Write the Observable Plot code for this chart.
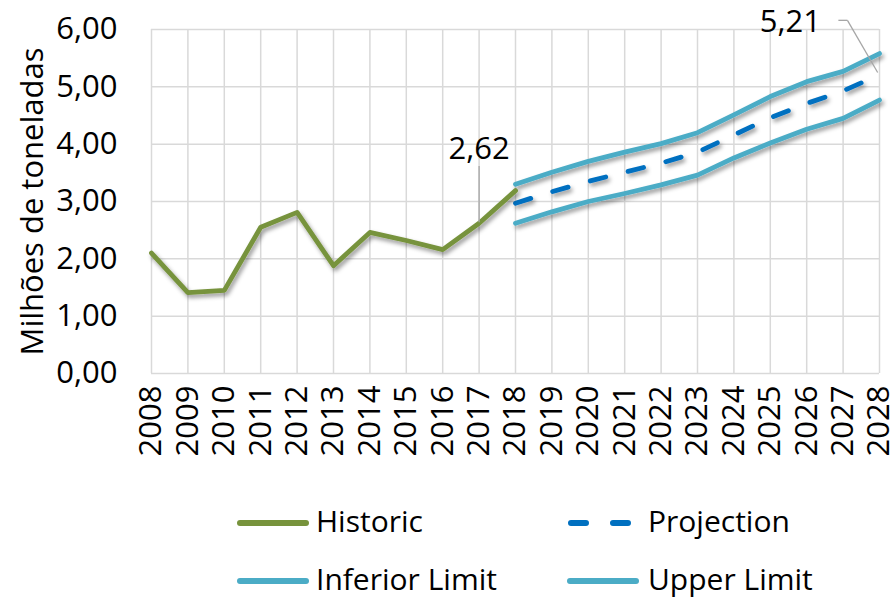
<!DOCTYPE html>
<html>
<head>
<meta charset="utf-8">
<script src="https://cdn.jsdelivr.net/npm/d3@7"></script>
<script src="https://cdn.jsdelivr.net/npm/@observablehq/plot@0.6"></script>
<style>
  html, body { margin: 0; padding: 0; background: #fff; }
  #wrap { position: relative; width: 893px; height: 598px; font-family: "Open Sans", sans-serif; overflow: hidden; }
  #legend { position: absolute; left: 0; top: 0; width: 893px; height: 598px; pointer-events: none; }
  .sw { position: absolute; display: block; }
  .lt { position: absolute; font-size: 30px; line-height: 30px; color: #000; white-space: nowrap; }
</style>
</head>
<body>
<div id="wrap">
  <div id="chart"></div>
  <div id="legend"></div>
</div>
<script>
const years = d3.range(2008, 2029);
const historicYears = [2008, 2009, 2010, 2011, 2012, 2013, 2014, 2015, 2016, 2017, 2018];
const historicValues = [2.10, 1.41, 1.45, 2.55, 2.81, 1.88, 2.46, 2.32, 2.16, 2.62, 3.19];
const projYears = [2018, 2019, 2020, 2021, 2022, 2023, 2024, 2025, 2026, 2027, 2028];
const projValues = [2.97, 3.17, 3.35, 3.51, 3.67, 3.86, 4.16, 4.46, 4.71, 4.93, 5.21];
const upperValues = [3.30, 3.51, 3.70, 3.86, 4.01, 4.20, 4.51, 4.83, 5.09, 5.27, 5.58];
const lowerValues = [2.62, 2.82, 3.00, 3.14, 3.29, 3.46, 3.76, 4.02, 4.26, 4.45, 4.77];
const yTicks = [0, 1, 2, 3, 4, 5, 6];
const seriesNames = ["Historic", "Projection", "Inferior Limit", "Upper Limit"];
const seriesColors = ["#77933c", "#0070c0", "#4bacc6", "#4bacc6"];
const annotations = [
  {year: 2017, value: 2.62, text: "2,62"},
  {year: 2028, value: 5.21, text: "5,21"}
];
const yTitle = "Milhões de toneladas";

const fmt = d => d.toFixed(2).replace(".", ",");
const historic = historicYears.map((x, i) => ({x, y: historicValues[i]}));
const proj = projYears.map((x, i) => ({x, y: projValues[i]}));
const upper = projYears.map((x, i) => ({x, y: upperValues[i]}));
const lower = projYears.map((x, i) => ({x, y: lowerValues[i]}));

const a1 = annotations[0], a2 = annotations[1];

const chart = Plot.plot({
  width: 893,
  height: 470,
  marginLeft: 151,
  marginRight: 14,
  marginTop: 29,
  marginBottom: 97,
  style: {fontFamily: "Open Sans, sans-serif", fontSize: "31px", color: "#000", background: "transparent", overflow: "visible"},
  x: {domain: [2008, 2028], ticks: years, tickFormat: d => String(d), tickRotate: -90, tickSize: 0, tickPadding: 12, label: null},
  y: {domain: [0, 6], ticks: yTicks, tickFormat: fmt, tickSize: 0, tickPadding: 34, label: null},
  marks: [
    Plot.gridX(years, {stroke: "#d9d9d9", strokeOpacity: 1, strokeWidth: 1.5}),
    Plot.gridY(yTicks, {stroke: "#d9d9d9", strokeOpacity: 1, strokeWidth: 1.5}),
    Plot.line(lower, {x: "x", y: "y", stroke: seriesColors[2], strokeWidth: 4.8, strokeLinejoin: "round"}),
    Plot.line(upper, {x: "x", y: "y", stroke: seriesColors[3], strokeWidth: 4.8, strokeLinejoin: "round"}),
    Plot.line(proj, {x: "x", y: "y", stroke: seriesColors[1], strokeWidth: 4.8, strokeDasharray: "16,23", strokeLinecap: "round"}),
    Plot.line(historic, {x: "x", y: "y", stroke: seriesColors[0], strokeWidth: 4.8, strokeLinejoin: "round"}),
    // leader for 2,62
    Plot.link([a1], {x1: "year", x2: "year", y1: d => d.value + 0.02, y2: d => d.value + 1.0, stroke: "#a6a6a6", strokeWidth: 1.3}),
    Plot.text([a1], {x: "year", y: "value", text: "text", dy: -74, fill: "#000"}),
    // leader for 5,21
    Plot.link([a2], {x1: d => d.year - 0.05, y1: d => d.value + 0.04, x2: d => d.year - 0.88, y2: d => d.value + 0.95, stroke: "#a6a6a6", strokeWidth: 1.3}),
    Plot.link([a2], {x1: d => d.year - 0.88, y1: d => d.value + 0.95, x2: d => d.year - 1.13, y2: d => d.value + 0.95, stroke: "#a6a6a6", strokeWidth: 1.3}),
    Plot.text([a2], {x: d => d.year - 2.45, y: d => d.value + 0.95, dy: 2, text: "text", fill: "#000"}),
    // y axis title
    Plot.text([yTitle], {frameAnchor: "left", text: d => d, rotate: -90, textAnchor: "middle", dx: -118, fill: "#000"})
  ]
});

// soft drop shadow on the lines
const svg = chart;
const ns = "http://www.w3.org/2000/svg";
const defs = document.createElementNS(ns, "defs");
defs.innerHTML = '<filter id="shadow" x="-5%" y="-20%" width="110%" height="140%"><feDropShadow dx="2" dy="3" stdDeviation="2.2" flood-color="#000" flood-opacity="0.4"/></filter>';
svg.insertBefore(defs, svg.firstChild);
svg.querySelectorAll('g[aria-label="line"]').forEach(g => g.setAttribute("filter", "url(#shadow)"));

document.getElementById("chart").appendChild(chart);

// legend
const legend = document.getElementById("legend");
const legendPos = [
  {swL: 240, txtL: 316, cy: 523}, {swL: 570, txtL: 648, cy: 523},
  {swL: 240, txtL: 316, cy: 581}, {swL: 570, txtL: 648, cy: 581}
];
seriesNames.forEach((name, i) => {
  const p = legendPos[i];
  const sw = document.createElementNS(ns, "svg");
  sw.setAttribute("class", "sw");
  sw.setAttribute("width", "72");
  sw.setAttribute("height", "10");
  sw.style.left = (p.swL - 3) + "px";
  sw.style.top = (p.cy - 5) + "px";
  const dash = i === 1 ? ' stroke-dasharray="15,27"' : '';
  const x1 = i === 1 ? 4 : 3, x2 = i === 1 ? 67 : 69;
  sw.innerHTML = '<line x1="' + x1 + '" y1="5" x2="' + x2 + '" y2="5" stroke="' + seriesColors[i] + '" stroke-width="6" stroke-linecap="round"' + dash + '/>';
  legend.appendChild(sw);
  const t = document.createElement("div");
  t.className = "lt";
  t.textContent = name;
  t.style.left = p.txtL + "px";
  t.style.top = (p.cy - 17) + "px";
  legend.appendChild(t);
});
</script>
</body>
</html>
